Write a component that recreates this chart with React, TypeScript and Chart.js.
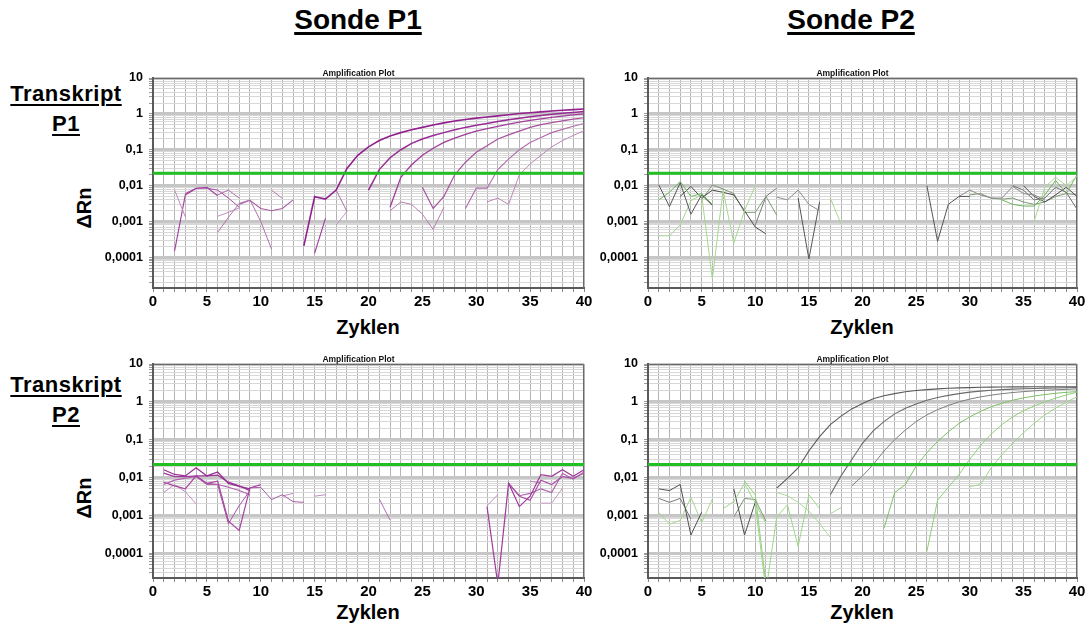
import React, { useEffect, useRef } from "react";
import { Chart, registerables } from "chart.js";

Chart.register(...registerables);

type Pt = [number, number];

const FONT = '"Liberation Sans", Arial, Helvetica, sans-serif';

// ---------- axis / tick data ----------
const CYCLE_MIN = 0;
const CYCLE_MAX = 40;
const X_LABELED_TICKS = [0, 5, 10, 15, 20, 25, 30, 35, 40];
const Y_MAX = 10;
const Y_MIN_TOP = 0.000014;
const Y_MIN_BOTTOM = 0.000022;
const Y_DECADES = [0.0001, 0.001, 0.01, 0.1, 1, 10];
const Y_DECADE_LABELS = ["0,0001", "0,001", "0,01", "0,1", "1", "10"];
const THRESHOLD = 0.022;
const PANEL_TITLE = "Amplification Plot";
const COLUMN_TITLES = ["Sonde P1", "Sonde P2"];
const ROW_TITLES = [["Transkript", "P1"], ["Transkript", "P2"]];
const Y_TITLE = "ΔRn";
const X_TITLE = "Zyklen";

// ---------- Panel top-left: Transkript P1 / Sonde P1 ----------
const tl_A: Pt[] = [[14, 0.00021], [15, 0.0049], [16, 0.0042], [17, 0.0075], [18, 0.03], [19, 0.07], [20, 0.12], [21, 0.18], [22, 0.24], [23, 0.3], [24, 0.36], [25, 0.42], [26, 0.49], [27, 0.56], [28, 0.63], [29, 0.7], [30, 0.76], [31, 0.82], [32, 0.88], [33, 0.95], [34, 1.02], [35, 1.08], [36, 1.14], [37, 1.2], [38, 1.26], [39, 1.31], [40, 1.37]];
const tl_B: Pt[] = [[20, 0.0075], [21, 0.028], [22, 0.06], [23, 0.1], [24, 0.15], [25, 0.2], [26, 0.25], [27, 0.3], [28, 0.36], [29, 0.42], [30, 0.48], [31, 0.54], [32, 0.61], [33, 0.69], [34, 0.76], [35, 0.83], [36, 0.9], [37, 0.97], [38, 1.04], [39, 1.1], [40, 1.17]];
const tl_C: Pt[] = [[22, 0.0025], [23, 0.017], [24, 0.038], [25, 0.07], [26, 0.11], [27, 0.16], [28, 0.21], [29, 0.27], [30, 0.33], [31, 0.39], [32, 0.45], [33, 0.52], [34, 0.59], [35, 0.66], [36, 0.73], [37, 0.8], [38, 0.87], [39, 0.94], [40, 1.0]];
const tl_D: Pt[] = [[25, 0.009], [26, 0.0023], [27, 0.005], [28, 0.02], [29, 0.045], [30, 0.085], [31, 0.13], [32, 0.2], [33, 0.26], [34, 0.33], [35, 0.42], [36, 0.5], [37, 0.57], [38, 0.64], [39, 0.71], [40, 0.78]];
const tl_E: Pt[] = [[29, 0.0023], [30, 0.0085], [31, 0.0085], [32, 0.028], [33, 0.055], [34, 0.1], [35, 0.16], [36, 0.22], [37, 0.3], [38, 0.37], [39, 0.45], [40, 0.54]];
const tl_F: Pt[] = [[31, 0.0035], [32, 0.0045], [33, 0.003], [34, 0.02], [35, 0.04], [36, 0.07], [37, 0.12], [38, 0.18], [39, 0.25], [40, 0.34]];
const tl_n1: Pt[] = [[2, 0.0076], [3, 0.00135]];
const tl_n2: Pt[] = [[2, 0.00015], [3, 0.0055], [4, 0.0083], [5, 0.0089], [6, 0.0052]];
const tl_n3: Pt[] = [[3, 0.006], [4, 0.0085], [5, 0.0085], [6, 0.0075], [7, 0.0045], [8, 0.0025]];
const tl_n4: Pt[] = [[6, 0.0005], [7, 0.0013], [8, 0.0032], [9, 0.004]];
const tl_n5: Pt[] = [[6, 0.0014], [7, 0.0018], [8, 0.0024]];
const tl_n6: Pt[] = [[6, 0.0055], [7, 0.0075], [8, 0.0045]];
const tl_n7: Pt[] = [[8, 0.003], [9, 0.0039], [10, 0.0023], [11, 0.002], [12, 0.0023], [13, 0.004]];
const tl_n8: Pt[] = [[9, 0.004], [10, 0.001], [11, 0.00017]];
const tl_n9: Pt[] = [[11, 0.0075], [12, 0.0044]];
const tl_n10: Pt[] = [[15, 0.00013], [16, 0.0012]];
const tl_n11: Pt[] = [[17, 0.0075], [18, 0.0019]];
const tl_n12: Pt[] = [[17, 0.0008], [18, 0.0019]];
const tl_n13: Pt[] = [[22, 0.002], [23, 0.0035], [24, 0.003], [25, 0.0016], [26, 0.0006], [27, 0.0025]];

// ---------- Panel top-right: Transkript P1 / Sonde P2 ----------
const tr_1: Pt[] = [[1, 0.0105], [2, 0.0026], [3, 0.012], [4, 0.0016], [5, 0.0055], [6, 0.0028]];
const tr_2: Pt[] = [[1, 0.004], [2, 0.0065], [3, 0.013], [4, 0.005], [5, 0.006], [6, 0.003]];
const tr_3: Pt[] = [[1, 0.0004], [2, 0.0004], [3, 0.0008], [4, 0.0038], [5, 0.0055], [6, 0.000025], [7, 0.0075], [8, 0.00025], [9, 0.002], [10, 0.01]];
const tr_4: Pt[] = [[3, 0.005], [4, 0.0095], [5, 0.0045], [6, 0.0075], [7, 0.0065], [8, 0.0055], [9, 0.002], [10, 0.0007], [11, 0.00045]];
const tr_5: Pt[] = [[5, 0.004], [6, 0.0105], [7, 0.008], [8, 0.006], [9, 0.0018], [10, 0.0018], [11, 0.005], [12, 0.0015]];
const tr_6: Pt[] = [[10, 0.0008], [11, 0.005], [12, 0.0085]];
const tr_7: Pt[] = [[12, 0.0048], [13, 0.004], [14, 0.0075], [15, 0.003], [16, 0.002]];
const tr_8: Pt[] = [[14, 0.0045], [15, 0.00009], [16, 0.0035]];
const tr_9: Pt[] = [[17, 0.0045], [18, 0.00085]];
const tr_10: Pt[] = [[26, 0.01], [27, 0.00028], [28, 0.003], [29, 0.005], [30, 0.005]];
const tr_11: Pt[] = [[29, 0.005], [30, 0.0075], [31, 0.0055], [32, 0.0045], [33, 0.0045], [34, 0.0095], [35, 0.006], [36, 0.0055], [37, 0.004]];
const tr_12: Pt[] = [[34, 0.01], [35, 0.0075], [36, 0.004], [37, 0.0045], [38, 0.009], [39, 0.0065], [40, 0.0022]];
const tr_13: Pt[] = [[36, 0.001], [37, 0.009], [38, 0.017], [39, 0.01], [40, 0.018]];
const tr_14: Pt[] = [[33, 0.004], [34, 0.003], [35, 0.0027], [36, 0.0027], [37, 0.0055], [38, 0.014], [39, 0.006], [40, 0.02]];
const tr_15: Pt[] = [[35, 0.01], [36, 0.005], [37, 0.0035], [38, 0.0055], [39, 0.009], [40, 0.005]];
const tr_16: Pt[] = [[30, 0.0055], [31, 0.006], [32, 0.0045], [33, 0.0042], [34, 0.0045], [35, 0.0035], [36, 0.003], [37, 0.0035], [38, 0.005], [39, 0.006], [40, 0.0055]];

// ---------- Panel bottom-left: Transkript P2 / Sonde P1 ----------
const bl_1: Pt[] = [[1, 0.016], [2, 0.012], [3, 0.011], [4, 0.018], [5, 0.011], [6, 0.014], [7, 0.007], [8, 0.0058], [9, 0.005]];
const bl_2: Pt[] = [[1, 0.013], [2, 0.0105], [3, 0.0105], [4, 0.011], [5, 0.011], [6, 0.0115], [7, 0.0075], [8, 0.006], [9, 0.0045]];
const bl_3: Pt[] = [[1, 0.0075], [2, 0.006], [3, 0.005], [4, 0.011], [5, 0.007], [6, 0.008], [7, 0.0007], [8, 0.0004], [9, 0.0053], [10, 0.0065]];
const bl_4: Pt[] = [[1, 0.0065], [2, 0.0085], [3, 0.0095], [4, 0.0105], [5, 0.0065], [6, 0.0065], [7, 0.0055], [8, 0.0045], [9, 0.0035]];
const bl_5: Pt[] = [[1, 0.004], [2, 0.0065], [3, 0.0042], [4, 0.002]];
const bl_6: Pt[] = [[5, 0.007], [6, 0.0065], [7, 0.0006], [8, 0.0018], [9, 0.0045]];
const bl_7: Pt[] = [[9, 0.0053], [10, 0.0055], [11, 0.0026], [12, 0.0035], [13, 0.0023], [14, 0.0022]];
const bl_8: Pt[] = [[12, 0.0032], [13, 0.0038]];
const bl_9: Pt[] = [[15, 0.0032], [16, 0.0035]];
const bl_10: Pt[] = [[21, 0.0027], [22, 0.00075]];
const bl_11: Pt[] = [[31, 0.0017], [32, 0.000015], [33, 0.007], [34, 0.0017], [35, 0.0032], [36, 0.0118], [37, 0.0107], [38, 0.016], [39, 0.0107], [40, 0.016]];
const bl_12: Pt[] = [[33, 0.007], [34, 0.0032], [35, 0.0025], [36, 0.0085], [37, 0.0065], [38, 0.0105], [39, 0.0095], [40, 0.013]];
const bl_13: Pt[] = [[33, 0.007], [34, 0.0033], [35, 0.0038], [36, 0.005], [37, 0.004], [38, 0.013], [39, 0.009], [40, 0.014]];
const bl_14: Pt[] = [[31, 0.0018], [32, 0.0035]];
const bl_15: Pt[] = [[36, 0.0021], [37, 0.0021], [38, 0.0052]];
const bl_16: Pt[] = [[35, 0.008], [36, 0.0072]];

// ---------- Panel bottom-right: Transkript P2 / Sonde P2 ----------
const br_G1: Pt[] = [[12, 0.0052], [13, 0.0095], [14, 0.018], [15, 0.05], [16, 0.12], [17, 0.25], [18, 0.42], [19, 0.65], [20, 0.9], [21, 1.2], [22, 1.45], [23, 1.65], [24, 1.85], [25, 2.0], [26, 2.1], [27, 2.2], [28, 2.28], [29, 2.34], [30, 2.38], [31, 2.42], [32, 2.45], [33, 2.47], [34, 2.48], [35, 2.49], [36, 2.5], [37, 2.5], [38, 2.5], [39, 2.5], [40, 2.5]];
const br_G2: Pt[] = [[17, 0.0035], [18, 0.011], [19, 0.03], [20, 0.08], [21, 0.17], [22, 0.3], [23, 0.48], [24, 0.68], [25, 0.88], [26, 1.1], [27, 1.3], [28, 1.48], [29, 1.65], [30, 1.8], [31, 1.92], [32, 2.02], [33, 2.1], [34, 2.17], [35, 2.22], [36, 2.26], [37, 2.3], [38, 2.33], [39, 2.36], [40, 2.4]];
const br_G3: Pt[] = [[19, 0.006], [20, 0.011], [21, 0.022], [22, 0.05], [23, 0.1], [24, 0.18], [25, 0.3], [26, 0.45], [27, 0.62], [28, 0.8], [29, 1.0], [30, 1.18], [31, 1.35], [32, 1.5], [33, 1.64], [34, 1.76], [35, 1.86], [36, 1.95], [37, 2.02], [38, 2.08], [39, 2.13], [40, 2.2]];
const br_G4: Pt[] = [[22, 0.00045], [23, 0.004], [24, 0.0065], [25, 0.02], [26, 0.045], [27, 0.09], [28, 0.16], [29, 0.27], [30, 0.4], [31, 0.56], [32, 0.74], [33, 0.92], [34, 1.1], [35, 1.27], [36, 1.42], [37, 1.56], [38, 1.68], [39, 1.78], [40, 1.87]];
const br_G5: Pt[] = [[26, 0.00011], [27, 0.0025], [28, 0.0055], [29, 0.012], [30, 0.03], [31, 0.07], [32, 0.14], [33, 0.25], [34, 0.4], [35, 0.58], [36, 0.78], [37, 1.0], [38, 1.25], [39, 1.52], [40, 1.8]];
const br_G6: Pt[] = [[30, 0.0058], [31, 0.0065], [32, 0.018], [33, 0.04], [34, 0.08], [35, 0.15], [36, 0.27], [37, 0.45], [38, 0.68], [39, 0.98], [40, 1.35]];
const br_n1: Pt[] = [[1, 0.005], [2, 0.0045], [3, 0.0065], [4, 0.0003], [5, 0.0012]];
const br_n2: Pt[] = [[1, 0.0028], [2, 0.0022], [3, 0.0028], [4, 0.0008]];
const br_n3: Pt[] = [[1, 0.0012], [2, 0.00058], [3, 0.00073], [4, 0.003], [5, 0.00064], [6, 0.0027]];
const br_n4: Pt[] = [[7, 0.0015], [8, 0.0023], [9, 0.007], [10, 0.0021], [11, 0.0006]];
const br_n5: Pt[] = [[8, 0.005], [9, 0.0003], [10, 0.0022]];
const br_n6: Pt[] = [[8, 0.0009], [9, 0.0028], [10, 0.0026], [11, 0.0007]];
const br_n7: Pt[] = [[10, 0.002], [11, 0.00001], [12, 0.0009], [13, 0.0019], [14, 0.00015], [15, 0.0035], [16, 0.0015]];
const br_n8: Pt[] = [[9, 0.008], [10, 0.0035], [11, 0.000015]];
const br_n9: Pt[] = [[12, 0.004], [13, 0.0033], [14, 0.0022], [15, 0.0013], [16, 0.0006], [17, 0.00026]];
const br_n10: Pt[] = [[17, 0.0011], [18, 0.0016]];

// ---------- series grouping and styles ----------
const TL_SERIES = [tl_A, tl_B, tl_C, tl_D, tl_E, tl_F, tl_n1, tl_n2, tl_n3, tl_n4, tl_n5, tl_n6, tl_n7, tl_n8, tl_n9, tl_n10, tl_n11, tl_n12, tl_n13];
const TL_COLORS = ["#92208e", "#982a94", "#a03c9c", "#a8529f", "#b06cad", "#bb86b8", "#c08abf", "#a03e9d", "#a84ca5", "#b574b3", "#c08cbf", "#b070ae", "#a85ca6", "#b070ae", "#b878b6", "#a0429e", "#b070ae", "#c49ac3", "#b57fb3"];
const TL_WIDTHS = [1.6, 1.5, 1.3, 1.2, 1.1, 1, 1, 1.1, 1, 1, 1, 1, 1.1, 1, 1, 1.1, 1, 1, 1];

const TR_SERIES = [tr_1, tr_2, tr_3, tr_4, tr_5, tr_6, tr_7, tr_8, tr_9, tr_10, tr_11, tr_12, tr_13, tr_14, tr_15, tr_16];
const TR_COLORS = ["#555555", "#6cb55a", "#a6d88f", "#4a4a4a", "#7c9874", "#777777", "#8a8a8a", "#555555", "#a6d88f", "#555555", "#8a8a8a", "#707070", "#a6d88f", "#6cb55a", "#4d4d4d", "#7c9874"];
const TR_WIDTHS = [1, 1, 1, 1, 1, 1, 1, 1, 1, 1, 1, 1, 1, 1, 1, 1];

const BL_SERIES = [bl_1, bl_2, bl_3, bl_4, bl_5, bl_6, bl_7, bl_8, bl_9, bl_10, bl_11, bl_12, bl_13, bl_14, bl_15, bl_16];
const BL_COLORS = ["#962e92", "#a03a9c", "#a6449f", "#b060ae", "#c48cc2", "#a850a6", "#a85ca6", "#c08cbf", "#c08cbf", "#b070ae", "#a03a9c", "#a84ea6", "#b060ae", "#c08cbf", "#c49ac3", "#b578b3"];
const BL_WIDTHS = [1.3, 1.3, 1.2, 1.1, 1, 1, 1, 1, 1, 1, 1.2, 1.1, 1.1, 1, 1, 1];

const BR_SERIES = [br_G1, br_G2, br_G3, br_G4, br_G5, br_G6, br_n1, br_n2, br_n3, br_n4, br_n5, br_n6, br_n7, br_n8, br_n9, br_n10];
const BR_COLORS = ["#5a5a5a", "#6a6a6a", "#7d7d7d", "#7fbf66", "#8fcf78", "#9ed68a", "#4d4d4d", "#777777", "#a6d88f", "#9ed68a", "#4d4d4d", "#7c9874", "#9ed68a", "#8fcf78", "#a8d898", "#a8d898"];
const BR_WIDTHS = [1.1, 1.1, 1, 1, 1, 1, 1, 1, 1, 1, 1, 1, 1, 1, 1, 1];

// ---------- layout ----------
const AXIS_W = 62;
const AXIS_H = 34;
const PAD_T = 16;
const PAD_R = 14;
const LEFT_PLOT_X = 153;
const LEFT_PLOT_W = 431;
const RIGHT_PLOT_X = 648;
const RIGHT_PLOT_W = 429;
const TOP_PLOT_Y = 78;
const TOP_PLOT_H = 210;
const BOTTOM_PLOT_Y = 364;
const BOTTOM_PLOT_H = 214;

function isDecade(v: number) {
  const l = Math.log10(v);
  return Math.abs(l - Math.round(l)) < 1e-6;
}

function decadeLabel(v: number): string {
  for (let i = 0; i < Y_DECADES.length; i++) {
    if (Math.abs(v - Y_DECADES[i]) / Y_DECADES[i] < 1e-6) return Y_DECADE_LABELS[i];
  }
  return "";
}

function logGridValues(min: number, max: number): number[] {
  const out: number[] = [];
  const e0 = Math.floor(Math.log10(min));
  const e1 = Math.ceil(Math.log10(max));
  for (let e = e0; e <= e1; e++) {
    for (let k = 1; k <= 9; k++) {
      const v = k * Math.pow(10, e);
      if (v >= min * (1 - 1e-9) && v <= max * (1 + 1e-9)) out.push(v);
    }
  }
  return out;
}

const framePlugin = {
  id: "frame",
  beforeDatasetsDraw(chart: any) {
    const { ctx, chartArea: a } = chart;
    ctx.save();
    ctx.strokeStyle = "#6a6a6a";
    ctx.lineWidth = 1;
    ctx.beginPath();
    ctx.moveTo(a.left, a.top + 0.5);
    ctx.lineTo(a.right - 0.5, a.top + 0.5);
    ctx.lineTo(a.right - 0.5, a.bottom);
    ctx.stroke();
    ctx.restore();
  },
  afterDraw(chart: any) {
    const { ctx, chartArea: a } = chart;
    ctx.save();
    ctx.fillStyle = "#111";
    ctx.font = `bold 8.5px ${FONT}`;
    ctx.textAlign = "center";
    ctx.textBaseline = "alphabetic";
    ctx.fillText(PANEL_TITLE, (a.left + a.right) / 2 - 10, a.top - 2);
    ctx.restore();
  },
};

type PanelProps = {
  plotLeft: number;
  plotTop: number;
  plotW: number;
  plotH: number;
  yMin: number;
  series: Pt[][];
  colors: string[];
  widths: number[];
};

function Panel(props: PanelProps) {
  const ref = useRef<HTMLCanvasElement | null>(null);
  const { plotLeft, plotTop, plotW, plotH, yMin, series, colors, widths } = props;
  const cw = AXIS_W + plotW + PAD_R;
  const ch = PAD_T + plotH + AXIS_H;

  useEffect(() => {
    if (!ref.current) return;
    const datasets: any[] = [
      {
        data: [
          { x: CYCLE_MIN, y: THRESHOLD },
          { x: CYCLE_MAX, y: THRESHOLD },
        ],
        borderColor: "#22bf22",
        borderWidth: 3,
        pointRadius: 0,
      },
    ];
    series.forEach((s, i) =>
      datasets.push({
        data: s.map(([x, y]) => ({ x, y })),
        borderColor: colors[i],
        borderWidth: widths[i],
        pointRadius: 0,
        tension: 0,
      })
    );
    const chart = new Chart(ref.current, {
      type: "line",
      data: { datasets },
      options: {
        animation: false,
        responsive: false,
        maintainAspectRatio: false,
        events: [],
        layout: { padding: { top: PAD_T, right: PAD_R, left: 0, bottom: 0 } },
        plugins: {
          legend: { display: false },
          tooltip: { enabled: false },
          title: { display: false },
        },
        scales: {
          x: {
            type: "linear",
            min: CYCLE_MIN,
            max: CYCLE_MAX,
            afterBuildTicks: (s: any) => {
              const t: any[] = [];
              for (let c = CYCLE_MIN; c <= CYCLE_MAX; c++) t.push({ value: c });
              s.ticks = t;
            },
            afterFit: (s: any) => {
              s.height = AXIS_H;
            },
            ticks: {
              autoSkip: false,
              maxRotation: 0,
              minRotation: 0,
              padding: 1,
              color: "#000",
              font: { family: FONT, size: 15, weight: "bold" },
              callback: (v: any) => (X_LABELED_TICKS.indexOf(Number(v)) >= 0 ? String(v) : ""),
            },
            grid: { color: "#b4b4b4", lineWidth: 1, tickLength: 4, tickColor: "#8a8a8a", tickWidth: 1 },
            border: { display: true, color: "#5a5a5a", width: 2 },
          },
          y: {
            type: "logarithmic",
            min: yMin,
            max: Y_MAX,
            afterBuildTicks: (s: any) => {
              s.ticks = logGridValues(yMin, Y_MAX).map((v) => ({ value: v }));
            },
            afterFit: (s: any) => {
              s.width = AXIS_W;
            },
            ticks: {
              autoSkip: false,
              padding: 6,
              color: "#000",
              font: { family: FONT, size: 12.5, weight: "bold" },
              callback: (v: any) => decadeLabel(Number(v)),
            },
            grid: {
              color: (c: any) => (c.tick && isDecade(c.tick.value) ? "#c6c6c6" : "#d8d8d8"),
              lineWidth: (c: any) => (c.tick && isDecade(c.tick.value) ? 3 : 1),
              tickLength: 4,
              tickColor: "#9a9a9a",
              tickWidth: 1,
            },
            border: { display: true, color: "#5a5a5a", width: 2 },
          },
        },
      } as any,
      plugins: [framePlugin],
    });
    return () => chart.destroy();
  }, []);

  return (
    <canvas
      ref={ref}
      width={cw}
      height={ch}
      style={{ position: "absolute", left: plotLeft - AXIS_W, top: plotTop - PAD_T, width: cw, height: ch, display: "block" }}
    />
  );
}

const textBase: React.CSSProperties = {
  position: "absolute",
  fontFamily: FONT,
  fontWeight: 700,
  color: "#000",
  whiteSpace: "nowrap",
};

function ColumnTitle({ text, cx }: { text: string; cx: number }) {
  return (
    <div
      style={{
        ...textBase,
        left: cx - 150,
        width: 300,
        top: 6,
        fontSize: 28,
        lineHeight: "28px",
        textAlign: "center",
        textDecoration: "underline",
        textDecorationThickness: "3px",
        textUnderlineOffset: "3px",
      }}
    >
      {text}
    </div>
  );
}

function RowTitle({ lines, top }: { lines: string[]; top: number }) {
  return (
    <div
      style={{
        ...textBase,
        left: -4,
        width: 140,
        top,
        fontSize: 22,
        lineHeight: "30px",
        letterSpacing: "0.5px",
        textAlign: "center",
        textDecoration: "underline",
        textDecorationThickness: "2px",
        textUnderlineOffset: "3px",
      }}
    >
      {lines[0]}
      <br />
      {lines[1]}
    </div>
  );
}

function YTitle({ cy }: { cy: number }) {
  return (
    <div
      style={{
        ...textBase,
        left: 84 - 40,
        top: cy - 12,
        width: 80,
        height: 24,
        fontSize: 20,
        lineHeight: "24px",
        textAlign: "center",
        transform: "rotate(-90deg)",
        transformOrigin: "50% 50%",
      }}
    >
      {Y_TITLE}
    </div>
  );
}

function XTitle({ cx, top }: { cx: number; top: number }) {
  return (
    <div style={{ ...textBase, left: cx - 60, width: 120, top, fontSize: 20, lineHeight: "20px", textAlign: "center" }}>
      {X_TITLE}
    </div>
  );
}

export default function App() {
  return (
    <div style={{ position: "absolute", left: 0, top: 0, width: 1090, height: 625, background: "#fff", overflow: "hidden" }}>
      <ColumnTitle text={COLUMN_TITLES[0]} cx={358} />
      <ColumnTitle text={COLUMN_TITLES[1]} cx={851} />
      <RowTitle lines={ROW_TITLES[0]} top={79} />
      <RowTitle lines={ROW_TITLES[1]} top={370} />
      <YTitle cy={208} />
      <YTitle cy={498} />
      <XTitle cx={368} top={317} />
      <XTitle cx={862} top={317} />
      <XTitle cx={368} top={602} />
      <XTitle cx={862} top={602} />
      <Panel plotLeft={LEFT_PLOT_X} plotTop={TOP_PLOT_Y} plotW={LEFT_PLOT_W} plotH={TOP_PLOT_H} yMin={Y_MIN_TOP} series={TL_SERIES} colors={TL_COLORS} widths={TL_WIDTHS} />
      <Panel plotLeft={RIGHT_PLOT_X} plotTop={TOP_PLOT_Y} plotW={RIGHT_PLOT_W} plotH={TOP_PLOT_H} yMin={Y_MIN_TOP} series={TR_SERIES} colors={TR_COLORS} widths={TR_WIDTHS} />
      <Panel plotLeft={LEFT_PLOT_X} plotTop={BOTTOM_PLOT_Y} plotW={LEFT_PLOT_W} plotH={BOTTOM_PLOT_H} yMin={Y_MIN_BOTTOM} series={BL_SERIES} colors={BL_COLORS} widths={BL_WIDTHS} />
      <Panel plotLeft={RIGHT_PLOT_X} plotTop={BOTTOM_PLOT_Y} plotW={RIGHT_PLOT_W} plotH={BOTTOM_PLOT_H} yMin={Y_MIN_BOTTOM} series={BR_SERIES} colors={BR_COLORS} widths={BR_WIDTHS} />
    </div>
  );
}
